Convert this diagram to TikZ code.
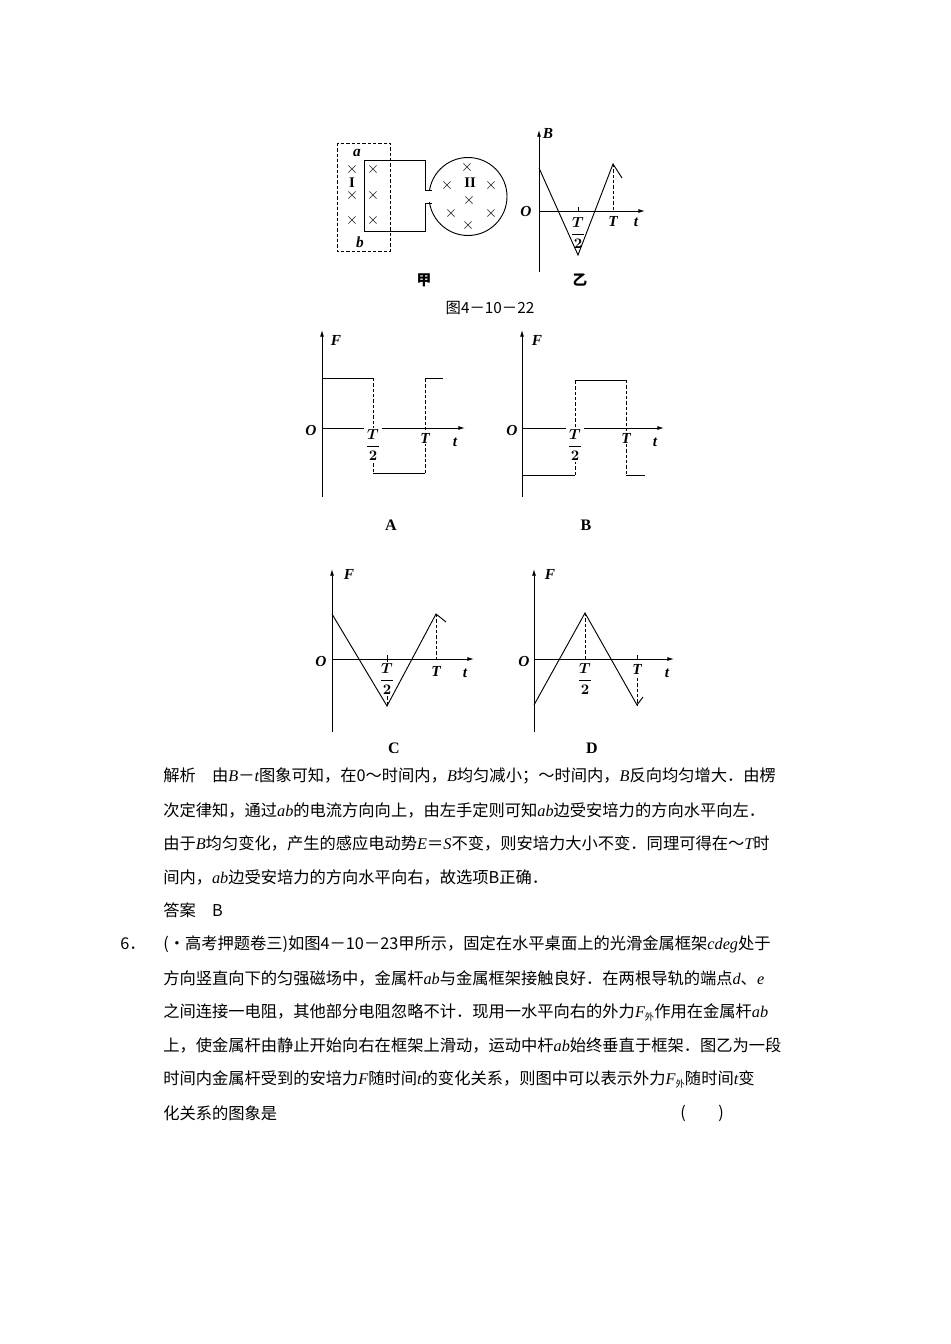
\documentclass[tikz,border=0pt]{standalone}
\usepackage{fontspec}
\usetikzlibrary{arrows.meta}
\setmainfont{Liberation Serif}
\newfontfamily\cjk{Noto Sans CJK SC}
\newcommand\li[1]{{\rmfamily\itshape #1}}
\newcommand\wai{\raisebox{-0.35ex}{\cjk\fontsize{7}{8}\selectfont 外}}
\begin{document}
\begin{tikzpicture}[x=0.75pt,y=-0.75pt,
  ax/.style={line width=0.7pt,-{Latex[length=5pt,width=3pt]}},
  ln/.style={line width=0.7pt},
  dsh/.style={line width=0.6pt,dashed,dash pattern=on 2.5pt off 1.5pt},
  lab/.style={font=\fontsize{11.5}{12}\selectfont\bfseries\itshape,inner sep=1pt},
  frac/.style={font=\fontsize{11}{12}\selectfont\boldmath,inner sep=1pt},
  capl/.style={font=\fontsize{12}{13}\selectfont\bfseries,inner sep=1pt},
  capc/.style={font=\cjk\fontsize{11}{12}\selectfont\bfseries,inner sep=1pt},
  xx/.style={font=\fontsize{12}{12}\selectfont,inner sep=0pt},
  tx/.style={anchor=west,inner sep=0pt,font=\cjk\fontsize{12.2}{14}\selectfont}]
\useasboundingbox (0,0) rectangle (950,1344);
% ---- figure jia
\draw[dsh] (337,143) rectangle (390,251);
\draw[ln] (468,196.5) circle[radius=39];
\fill[white] (428,191) rectangle (433,202);
\draw[ln] (431.5,190) -- (425,190) -- (425,160) -- (364,160) -- (364,231) -- (425,231) -- (425,203) -- (431.5,203);
\node[lab] (la) at (357,153) {a};
\node[lab] (lb) at (360,242) {b};
\foreach \y in {170,196,221}{\node[xx] at (352,\y) {$\times$}; \node[xx] at (373,\y) {$\times$};}
\node[font=\fontsize{11}{11}\selectfont\bfseries,inner sep=0pt] at (352,183) {I};
\foreach \p in {(467,168),(447,186),(491,186),(469,201),(451,214),(491,214),(468,226)} \node[xx] at \p {$\times$};
\node[font=\fontsize{11}{11}\selectfont\bfseries,inner sep=0pt] at (470,183) {II};
% ---- figure yi
\draw[ax] (539,272) -- (539,130);
\draw[ax] (539,211) -- (645,211);
\node[lab] at (548,134) {B};
\node[lab] at (526,212) {O};
\node[lab] at (636,222) {t};
\draw[ln] (539,168) -- (578,255) -- (613,164) -- (622,178);
\draw[dsh] (613,164) -- (613,211);
\draw[ln] (578,207) -- (578,211);
\node[frac] at (578,233) {$\displaystyle\frac{T}{2}$};
\node[lab] at (613,221) {T};
\node[capc] at (424,280) {甲};
\node[capc] at (580,280) {乙};
\node[font=\cjk\fontsize{11.5}{12}\selectfont] at (490,308) {图4－10－22};
% ---- graph A
\draw[ax] (322,497) -- (322,330);
\draw[ax] (322,428) -- (465,428);
\node[lab] at (336,340) {F};
\node[lab] at (311,430) {O};
\node[lab] at (455,442) {t};
\draw[ln] (322,378) -- (373,378); \draw[dsh] (373,378) -- (373,473);
\draw[ln] (373,473) -- (425,473); \draw[dsh] (425,473) -- (425,378);
\draw[ln] (425,378) -- (443,378);
\node[frac,fill=white] at (373,445) {$\displaystyle\frac{T}{2}$};
\node[lab,fill=white] at (425,438) {T};
\node[capl] at (391,525) {A};
% ---- graph B
\draw[ax] (522,497) -- (522,330);
\draw[ax] (522,428) -- (664,428);
\node[lab] at (537,340) {F};
\node[lab] at (512,430) {O};
\node[lab] at (655,442) {t};
\draw[ln] (522,475) -- (575,475); \draw[dsh] (575,475) -- (575,380);
\draw[ln] (575,380) -- (626,380); \draw[dsh] (626,380) -- (626,475);
\draw[ln] (626,475) -- (645,475);
\node[frac,fill=white] at (575,445) {$\displaystyle\frac{T}{2}$};
\node[lab,fill=white] at (626,438) {T};
\node[capl] at (586,525) {B};
% ---- graph C
\draw[ax] (332,732) -- (332,569);
\draw[ax] (332,659) -- (474,659);
\node[lab] at (349,574) {F};
\node[lab] at (321,661) {O};
\node[lab] at (465,673) {t};
\draw[dsh] (387,659) -- (387,706);
\draw[ln] (387,655) -- (387,659);
\node[frac,fill=white] at (387,679) {$\displaystyle\frac{T}{2}$};
\draw[ln] (332,614) -- (387,706) -- (436,614) -- (446,622);
\draw[dsh] (436,614) -- (436,659);
\node[lab] at (436,671) {T};
\node[capl] at (394,748) {C};
% ---- graph D
\draw[ax] (534,732) -- (534,569);
\draw[ax] (534,659) -- (674,659);
\node[lab] at (550,574) {F};
\node[lab] at (524,661) {O};
\node[lab] at (667,673) {t};
\draw[ln] (534,705) -- (585,613) -- (637,705) -- (643,697);
\draw[dsh] (585,613) -- (585,659);
\node[frac] at (585,679) {$\displaystyle\frac{T}{2}$};
\draw[ln] (637,655) -- (637,659);
\draw[dsh] (637,678) -- (637,705);
\node[lab] at (637,669) {T};
\node[capl] at (592,748) {D};
% ---- text
\node[tx] (t1) at (163,776) {解析\quad 由\li{B}－\li{t}图象可知，在0～时间内，\li{B}均匀减小；～时间内，\li{B}反向均匀增大．由楞};
\node[tx] (t2) at (163,810) {次定律知，通过\li{ab}的电流方向向上，由左手定则可知\li{ab}边受安培力的方向水平向左．};
\node[tx] (t3) at (163,843) {由于\li{B}均匀变化，产生的感应电动势\li{E}＝\li{S}不变，则安培力大小不变．同理可得在～\li{T}时};
\node[tx] (t4) at (163,877) {间内，\li{ab}边受安培力的方向水平向右，故选项B正确．};
\node[tx] (t5) at (163,910) {答案\quad B};
\node[tx] (t6n) at (120,944) {6．};
\node[tx] (t6) at (163,944) {(·高考押题卷三)如图4－10－23甲所示，固定在水平桌面上的光滑金属框架\li{cdeg}处于};
\node[tx] (t7) at (163,978) {方向竖直向下的匀强磁场中，金属杆\li{ab}与金属框架接触良好．在两根导轨的端点\li{d}、\li{e}};
\node[tx] (t8) at (163,1012) {之间连接一电阻，其他部分电阻忽略不计．现用一水平向右的外力\li{F}\wai 作用在金属杆\li{ab}};
\node[tx] (t9) at (163,1045) {上，使金属杆由静止开始向右在框架上滑动，运动中杆\li{ab}始终垂直于框架．图乙为一段};
\node[tx] (t10) at (163,1079) {时间内金属杆受到的安培力\li{F}随时间\li{t}的变化关系，则图中可以表示外力\li{F}\wai 随时间\li{t}变};
\node[tx] (t11) at (163,1113) {化关系的图象是};
\node[tx] (t11b) at (680,1113) {(\qquad)};
\end{tikzpicture}
\end{document}
